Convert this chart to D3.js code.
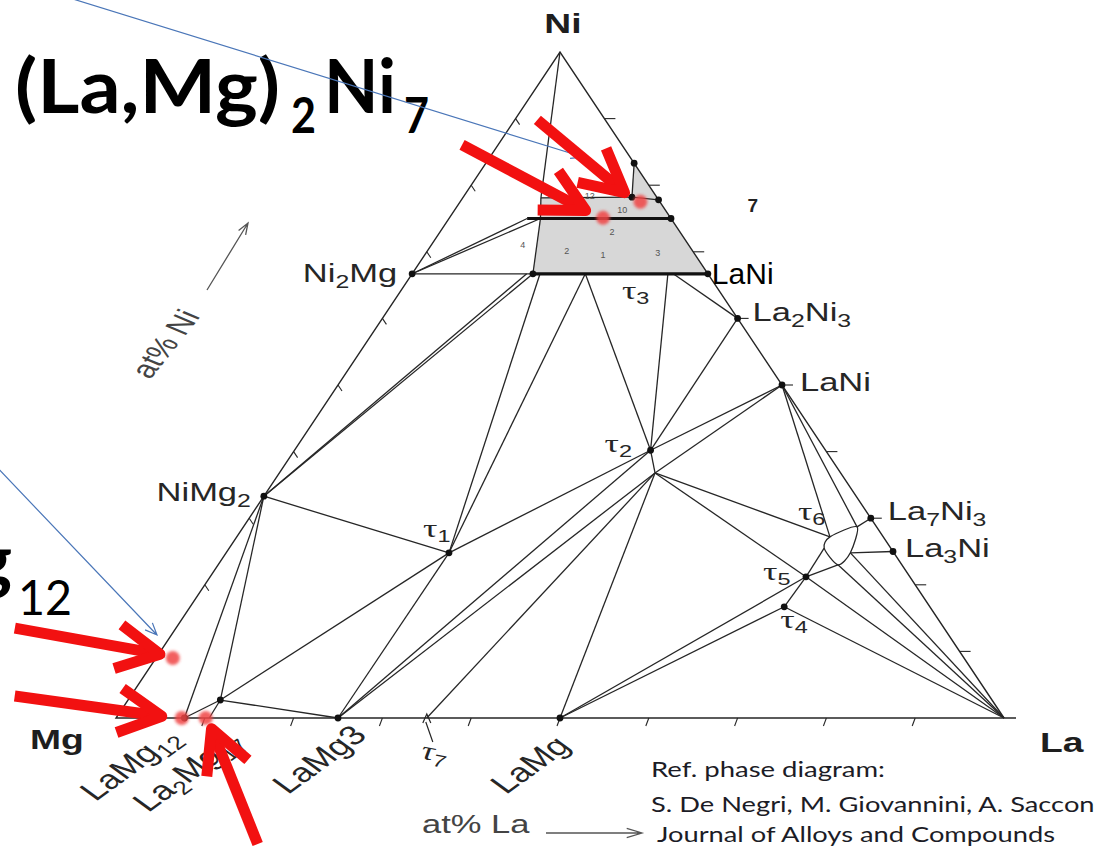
<!DOCTYPE html>
<html><head><meta charset="utf-8">
<script src="https://cdn.jsdelivr.net/npm/d3@7"></script>
<style>html,body{margin:0;padding:0;background:#fff;overflow:hidden}</style>
</head><body>
<svg id="chart" width="1095" height="849" xmlns="http://www.w3.org/2000/svg"></svg>
<script>
// ===== DATA (compositions in at% Ni and at% La, Mg = remainder) =====
const corners = [
  {id:"Mg", ni:0, la:0}, {id:"La", ni:0, la:100}, {id:"Ni", ni:100, la:0}
];
const binaryPhases = [
  {id:"Ni2Mg", ni:66.7, la:0}, {id:"NiMg2", ni:33.3, la:0},
  {id:"LaNi5", ni:83.3, la:16.7}, {id:"La2Ni7", ni:77.8, la:22.2},
  {id:"LaNi3", ni:75, la:25}, {id:"LaNi2", ni:66.7, la:33.3},
  {id:"La2Ni3", ni:60, la:40}, {id:"LaNi", ni:50, la:50},
  {id:"La7Ni3", ni:30, la:70}, {id:"La3Ni", ni:25, la:75},
  {id:"LaMg12", ni:0, la:7.7}, {id:"La2Mg17", ni:0, la:10.5},
  {id:"LaMg3", ni:0, la:25}, {id:"LaMg", ni:0, la:50}
];
const ternaryPhases = [
  {id:"t1", ni:24.8, la:25.1}, {id:"t2", ni:40.2, la:40.1}, {id:"t2b", ni:36.8, la:42.3},
  {id:"t4", ni:16.7, la:66.9}, {id:"t5", ni:21.2, la:67.1}, {id:"t7", ni:0, la:35},
  {id:"P", ni:2.7, la:10.4}
];
const fieldVertices = [
  {id:"g0", ni:66.7, la:12.9}, {id:"g1", ni:66.7, la:13.6}, {id:"g2", ni:66.7, la:14.4},
  {id:"g3", ni:66.7, la:19.5}, {id:"g4", ni:66.7, la:28.8}, {id:"g5", ni:66.7, la:29.4},
  {id:"u1", ni:75, la:8.8}, {id:"u2", ni:75, la:10.3}, {id:"u3", ni:78.1, la:8.8},
  {id:"u4", ni:78.2, la:19.0},
  {id:"A", ni:27.2, la:66.8}, {id:"B", ni:28.7, la:69.1}, {id:"C", ni:24.8, la:70.3},
  {id:"D", ni:23.0, la:69.8}, {id:"E", ni:25.5, la:67.0}
];
const tieLines = [
  ["Ni2Mg","g1"],["Ni2Mg","u1"],["Ni2Mg","u2"],["Ni","u3"],["u3","u2"],["g1","u2"],
  ["u3","u4"],["u4","LaNi5"],["u4","La2Ni7"],
  ["NiMg2","g0"],["NiMg2","g1"],["NiMg2","t1"],["NiMg2","LaMg12"],["NiMg2","P"],
  ["LaMg12","P"],["P","La2Mg17"],["P","t1"],["P","LaMg3"],
  ["t1","g2"],["t1","g3"],["t1","t2"],["t1","LaMg3"],["LaMg3","t2"],["LaMg3","t2b"],
  ["t7","t2b"],["LaMg","t2b"],["LaMg","t4"],["LaMg","t5"],
  ["g3","t2"],["g4","t2"],["g5","La2Ni3"],["t2","La2Ni3"],["t2","LaNi"],["t2b","LaNi"],
  ["t2","t2b"],["t2b","A"],["t2b","t5"],["t5","La"],["t4","La"],["t4","t5"],["t5","E"],
  ["t5","D"],["LaNi","A"],["LaNi","B"],["La7Ni3","B"],["La3Ni","C"],["C","La"],["D","La"]
];
const thickLines = [["g1","LaNi2"],["u1","LaNi3"]];
const grayFields = [["u2","u3","u4","LaNi5","LaNi3"],["g1","u2","LaNi3","LaNi2"]];
const tau6Field = ["A","B","C","D","E"];
const dotIds = ["Ni2Mg","NiMg2","LaNi2","La2Ni3","LaNi","La7Ni3","La3Ni","t1","t2","t4","t5",
  "LaMg3","LaMg","P","LaMg12","LaNi3","La2Ni7","LaNi5","g1","u4"];
const tickValues = [10,20,30,40,50,60,70,80,90];
const compoundLabels = [
  {id:"Ni2Mg", parts:[["Ni"],["2",1],["Mg"]]},
  {id:"NiMg2", parts:[["NiMg"],["2",1]]},
  {id:"La2Ni3", parts:[["La"],["2",1],["Ni"],["3",1]]},
  {id:"LaNi", parts:[["LaNi"]]},
  {id:"La7Ni3", parts:[["La"],["7",1],["Ni"],["3",1]]},
  {id:"La3Ni", parts:[["La"],["3",1],["Ni"]]}
];
const baseLabels = [
  {id:"LaMg12", parts:[["LaMg"],["12",1]]},
  {id:"La2Mg17", parts:[["La"],["2",1],["Mg"],["17",1]]},
  {id:"LaMg3", parts:[["LaMg3"]]},
  {id:"LaMg", parts:[["LaMg"]]}
];
const tauLabels = [
  {id:"t1", n:"1"}, {id:"t2", n:"2"}, {id:"g4", n:"3"}, {id:"t4", n:"4"},
  {id:"t5", n:"5"}, {id:"A", n:"6"}, {id:"t7", n:"7"}
];
const sampleNumbers = [
  {t:"12", ni:77.9, la:14.4}, {t:"10", ni:75.8, la:19.1}, {t:"2", ni:72.5, la:19.6},
  {t:"4", ni:70.6, la:10.5}, {t:"2", ni:69.7, la:15.9}, {t:"1", ni:69.1, la:20.3},
  {t:"3", ni:69.4, la:26.3}
];
const highlighted = [
  {id:"r1", ni:75.1, la:17.3}, {id:"r2", ni:77.5, la:20.3}, {id:"r3", ni:9.0, la:1.9},
  {id:"r4", ni:0, la:7.4}, {id:"r5", ni:0, la:10.1}
];

// ===== SCALES =====
const xScale = d3.scaleLinear().domain([0,100]).range([116,1004]);
const yScale = d3.scaleLinear().domain([0,100]).range([718,52]);
const pos = d => [xScale(d.la + d.ni/2), yScale(d.ni)];
const byId = new Map([...corners, ...binaryPhases, ...ternaryPhases, ...fieldVertices].map(d=>[d.id,d]));
const P = id => pos(byId.get(id));

const svg = d3.select("#chart");
svg.append("rect").attr("width",1095).attr("height",849).attr("fill","#fff");
const defs = svg.append("defs");
defs.append("filter").attr("id","soft").attr("x","-50%").attr("y","-50%").attr("width","200%").attr("height","200%")
  .append("feGaussianBlur").attr("stdDeviation",1.6);

const LINE = "#262626";
const SX = 1.38;
const g = svg.append("g");

// gray single-phase fields
g.selectAll("path.field").data(grayFields).join("path")
  .attr("d", ids => d3.line()(ids.map(P)) + "Z")
  .attr("fill","#d7d7d7").attr("stroke","none");

// tie lines
g.selectAll("line.tie").data(tieLines).join("line")
  .attr("x1", d=>P(d[0])[0]).attr("y1", d=>P(d[0])[1])
  .attr("x2", d=>P(d[1])[0]).attr("y2", d=>P(d[1])[1])
  .attr("stroke", LINE).attr("stroke-width",1.3);

// tau6 field
g.append("path").attr("d", d3.line().curve(d3.curveCardinalClosed.tension(0.2))(tau6Field.map(P)))
  .attr("fill","none").attr("stroke",LINE).attr("stroke-width",1.3);

// triangle edges
const pMg = P("Mg"), pLa = P("La"), pNi = P("Ni");
g.append("path").attr("d", d3.line()([pLa, pNi, pMg, [pLa[0]+12, pLa[1]]]))
  .attr("fill","none").attr("stroke",LINE).attr("stroke-width",1.4);

// thick lines
g.selectAll("line.thick").data(thickLines).join("line")
  .attr("x1", d=>P(d[0])[0]).attr("y1", d=>P(d[0])[1])
  .attr("x2", d=>P(d[1])[0]).attr("y2", d=>P(d[1])[1])
  .attr("stroke","#111").attr("stroke-width",3.2);

// ticks
const tk = g.append("g").attr("stroke",LINE).attr("stroke-width",1.1);
tickValues.forEach(v=>{
  const b = pos({ni:0, la:v});   tk.append("line").attr("x1",b[0]).attr("y1",b[1]).attr("x2",b[0]-3).attr("y2",b[1]+8);
  const l = pos({ni:v, la:0});   tk.append("line").attr("x1",l[0]).attr("y1",l[1]).attr("x2",l[0]+4).attr("y2",l[1]+6);
  const r = pos({ni:v, la:100-v}); tk.append("line").attr("x1",r[0]).attr("y1",r[1]).attr("x2",r[0]+11).attr("y2",r[1]);
});
// tau7 marker
const p7 = P("t7");
g.append("path").attr("d", `M${p7[0]-4},${p7[1]+5}L${p7[0]},${p7[1]-4}L${p7[0]+4},${p7[1]+5}M${p7[0]-1},${p7[1]+4}L${p7[0]+6},${p7[1]+24}`)
  .attr("fill","none").attr("stroke",LINE).attr("stroke-width",1.2);

// dots
g.selectAll("circle.dot").data(dotIds).join("circle")
  .attr("cx", d=>P(d)[0]).attr("cy", d=>P(d)[1]).attr("r",3.4).attr("fill","#111");

// rich text helper
function rich(sel, parts, fs, opts={}) {
  const t = sel.append("text").attr("font-size",fs)
    .attr("font-family", opts.family || "'Liberation Sans', Arial, sans-serif")
    .attr("fill", opts.fill || "#262626")
    .attr("font-weight", opts.weight || "normal")
    .attr("text-anchor", opts.anchor || "start");
  const sub = Math.round(fs*0.72), sdy = Math.round(fs*0.24);
  let prev = false;
  parts.forEach(([s, isSub])=>{
    const ts = t.append("tspan").text(s);
    if (isSub) ts.attr("font-size", sub);
    if (isSub && !prev) ts.attr("dy", sdy);
    if (!isSub && prev) ts.attr("dy", -sdy);
    prev = !!isSub;
  });
  return t;
}

// compound labels
const labelPos = {
  Ni2Mg:{dx:-15, dy:8, anchor:"end"}, NiMg2:{dx:-13, dy:5, anchor:"end"},
  La2Ni3:{dx:15, dy:3}, LaNi:{dx:18, dy:6}, La7Ni3:{dx:17, dy:2}, La3Ni:{dx:12, dy:5}
};
compoundLabels.forEach(l=>{
  const p = P(l.id), o = labelPos[l.id];
  const gg = g.append("g").attr("transform",`translate(${p[0]+o.dx},${p[1]+o.dy}) scale(${SX},1)`);
  rich(gg, l.parts, 25, {anchor:o.anchor});
});
// base labels (rotated)
const basePos = {LaMg12:{dx:-89,dy:84}, La2Mg17:{dx:-61,dy:95}, LaMg3:{dx:-50,dy:77}, LaMg:{dx:-54,dy:77}};
baseLabels.forEach(l=>{
  const p = P(l.id), o = basePos[l.id];
  const gg = g.append("g").attr("transform",`translate(${p[0]+o.dx},${p[1]+o.dy}) scale(${SX},1) rotate(-45)`);
  rich(gg, l.parts, 27);
});
// tau labels
const tauPos = {t1:{dx:-26,dy:-16}, t2:{dx:-46,dy:2}, g4:{dx:-46,dy:25}, t4:{dx:-4,dy:21},
  t5:{dx:-43,dy:3}, A:{dx:-32,dy:-17}, t7:{dx:-8,dy:40,rot:15}};
tauLabels.forEach(l=>{
  const p = P(l.id), o = tauPos[l.id];
  const gg = g.append("g").attr("transform",`translate(${p[0]+o.dx},${p[1]+o.dy}) scale(${SX},1)` + (o.rot?` rotate(${o.rot})`:""));
  const t = gg.append("text").attr("fill","#262626");
  t.append("tspan").text("τ").attr("font-family","'Liberation Serif', serif").attr("font-size",26);
  t.append("tspan").text(l.n).attr("font-family","'Liberation Sans', Arial, sans-serif").attr("font-size",17).attr("dy",5);
});
// corner labels
const cornerPos = {Mg:{dx:-86,dy:31,anchor:"start"}, La:{dx:36,dy:34,anchor:"start"}, Ni:{dx:3,dy:-19,anchor:"middle"}};
corners.forEach(c=>{
  const p = P(c.id), o = cornerPos[c.id];
  g.append("text").attr("transform",`translate(${p[0]+o.dx},${p[1]+o.dy}) scale(${SX},1)`)
    .attr("text-anchor",o.anchor).attr("font-family","'Liberation Sans', Arial, sans-serif")
    .attr("font-weight","bold").attr("font-size",27).attr("fill","#1e1e1e").text(c.id);
});
// sample numbers inside gray area
g.selectAll("text.sn").data(sampleNumbers).join("text")
  .attr("x", d=>pos(d)[0]).attr("y", d=>pos(d)[1]).attr("font-size",9)
  .attr("font-family","'Liberation Sans', Arial, sans-serif").attr("fill","#555").attr("text-anchor","middle")
  .text(d=>d.t);

// overlay labels (unstretched)
{
  const p = P("LaNi2");
  g.append("text").attr("x",p[0]+4).attr("y",p[1]+10).attr("font-size",30)
    .attr("font-family","'Liberation Sans', Arial, sans-serif").attr("fill","#000").text("LaNi");
  const q = P("La2Ni7");
  g.append("text").attr("x",q[0]+89).attr("y",q[1]+12).attr("font-size",19).attr("font-weight","bold")
    .attr("font-family","'Liberation Sans', Arial, sans-serif").attr("fill","#222").text("7");
}

// axis captions
function openArrow(sel, a, b, color, w, len, ang) {
  const ux = a[0]-b[0], uy = a[1]-b[1], L = Math.hypot(ux,uy), u=[ux/L,uy/L];
  const rot = (v,t)=>[v[0]*Math.cos(t)-v[1]*Math.sin(t), v[0]*Math.sin(t)+v[1]*Math.cos(t)];
  const h1 = rot(u,ang), h2 = rot(u,-ang);
  sel.append("path").attr("d",`M${a[0]},${a[1]}L${b[0]},${b[1]}M${b[0]+h1[0]*len},${b[1]+h1[1]*len}L${b[0]},${b[1]}L${b[0]+h2[0]*len},${b[1]+h2[1]*len}`)
    .attr("fill","none").attr("stroke",color).attr("stroke-width",w);
}
g.append("text").attr("transform",`translate(150,380) scale(${SX},1) rotate(-60)`)
  .attr("font-family","'Liberation Sans', Arial, sans-serif").attr("font-size",25).attr("fill","#444").text("at% Ni");
openArrow(g, [207,290], [248,223], "#555", 1.3, 12, 0.35);
g.append("g").attr("transform",`translate(422,833) scale(${SX},1)`).append("text")
  .attr("font-family","'Liberation Sans', Arial, sans-serif").attr("font-size",25).attr("fill","#444").text("at% La");
openArrow(g, [546,833], [642,833], "#555", 1.3, 16, 0.3);

// reference text
const refLines = [
  {t:"Ref. phase diagram:", x:651, y:777, len:234},
  {t:"S. De Negri, M. Giovannini, A. Saccone", x:651, y:812, len:458},
  {t:"Journal of Alloys and Compounds", x:657, y:842, len:398}
];
svg.selectAll("text.ref").data(refLines).join("text")
  .attr("x",d=>d.x).attr("y",d=>d.y).attr("textLength",d=>d.len).attr("lengthAdjust","spacingAndGlyphs")
  .attr("font-family","Lato, 'Open Sans', sans-serif").attr("font-size",21).attr("fill","#1c1c26").text(d=>d.t);

// big annotation text
const big = svg.append("g").attr("font-family","Lato, 'Open Sans', sans-serif").attr("fill","#000");
big.append("text").attr("x",15).attr("y",113).attr("font-size",74).attr("font-weight","bold")
  .attr("textLength",265).attr("lengthAdjust","spacingAndGlyphs").text("(La,Mg)");
big.append("text").attr("x",291).attr("y",133).attr("font-size",50).attr("font-weight","bold")
  .attr("textLength",25).attr("lengthAdjust","spacingAndGlyphs").text("2");
big.append("text").attr("x",324).attr("y",113).attr("font-size",74).attr("font-weight","bold")
  .attr("textLength",72).attr("lengthAdjust","spacingAndGlyphs").text("Ni");
big.append("text").attr("x",404).attr("y",133).attr("font-size",50).attr("font-weight","bold")
  .attr("textLength",25).attr("lengthAdjust","spacingAndGlyphs").text("7");
big.append("text").attr("x",12).attr("y",585).attr("font-size",72).attr("font-weight","bold")
  .attr("text-anchor","end").text("LaMg");
big.append("text").attr("x",18).attr("y",615).attr("font-size",48)
  .attr("textLength",54).attr("lengthAdjust","spacingAndGlyphs").text("12");

// blue leader lines
const blue = svg.append("g");
openArrow(blue, [60,-5], [583,157], "#4a76b8", 1.2, 13, 0.4);
openArrow(blue, [-10,460], [157,635], "#4a76b8", 1.2, 13, 0.4);

// highlighted samples (red dots)
const hl = svg.append("g");
hl.selectAll("circle").data(highlighted).join("circle")
  .attr("cx",d=>pos(d)[0]).attr("cy",d=>pos(d)[1]).attr("r",7)
  .attr("fill","#f04545").attr("opacity",0.85).attr("filter","url(#soft)");

// red arrows pointing at highlighted samples
const arrowPos = {
  r1:{tail:[-141,-73], tip:[-13,-5]}, r2:{tail:[-103,-82], tip:[-12,-6]},
  r3:{tail:[-158,-30], tip:[-8,-3]},  r4:{tail:[-167,-22], tip:[-15,-1]},
  r5:{tail:[52,126], tip:[4,6]}
};
const ra = svg.append("g").attr("fill","none").attr("stroke","#f21111").attr("stroke-width",11)
  .attr("stroke-linejoin","round").attr("stroke-linecap","butt");
highlighted.forEach(d=>{
  const p = pos(d), o = arrowPos[d.id];
  const tail = [p[0]+o.tail[0], p[1]+o.tail[1]];
  let tip = [p[0]+o.tip[0], p[1]+o.tip[1]];
  const ux = tail[0]-tip[0], uy = tail[1]-tip[1], L = Math.hypot(ux,uy), u=[ux/L,uy/L];
  tip = [tip[0]+u[0]*5, tip[1]+u[1]*5];
  const rot = (v,t)=>[v[0]*Math.cos(t)-v[1]*Math.sin(t), v[0]*Math.sin(t)+v[1]*Math.cos(t)];
  const h1 = rot(u,0.48), h2 = rot(u,-0.48), len=48;
  ra.append("path").attr("d",`M${tail[0]},${tail[1]}L${tip[0]+u[0]*6},${tip[1]+u[1]*6}`);
  ra.append("path").attr("d",`M${tip[0]+h1[0]*len},${tip[1]+h1[1]*len}L${tip[0]},${tip[1]}L${tip[0]+h2[0]*len},${tip[1]+h2[1]*len}`);
});
</script>
</body></html>
